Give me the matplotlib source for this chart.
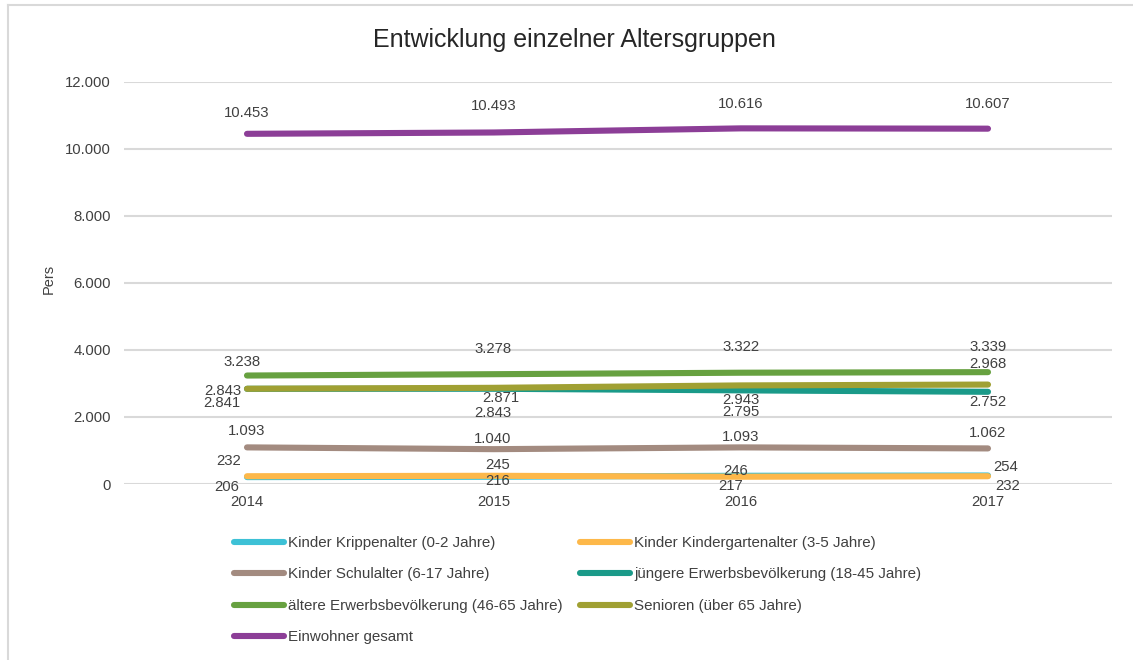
import matplotlib
matplotlib.use("Agg")
import matplotlib.pyplot as plt
from matplotlib.lines import Line2D

plt.rcParams['font.family'] = ['Liberation Sans', 'DejaVu Sans']

years = ["2014", "2015", "2016", "2017"]
krippe = [206, 216, 246, 254]
kindergarten = [232, 245, 217, 232]
schule = [1093, 1040, 1093, 1062]
juengere = [2841, 2843, 2795, 2752]
aeltere = [3238, 3278, 3322, 3339]
senioren = [2843, 2871, 2943, 2968]
gesamt = [10453, 10493, 10616, 10607]

names = ["Kinder Krippenalter (0-2 Jahre)", "Kinder Kindergartenalter (3-5 Jahre)",
         "Kinder Schulalter (6-17 Jahre)", "jüngere Erwerbsbevölkerung (18-45 Jahre)",
         "ältere Erwerbsbevölkerung (46-65 Jahre)", "Senioren (über 65 Jahre)",
         "Einwohner gesamt"]
series = [krippe, kindergarten, schule, juengere, aeltere, senioren, gesamt]
colors = ["#3DC1D6", "#FDB84A", "#A38B80", "#1A9A89", "#67A140", "#A0A033", "#8C3E97"]

# label offsets in pixels (dx, dy upward positive)
offsets = [
    [(-20, -10), (4, -4), (-5, 5), (18, 8)],
    [(-18, 15), (4, 11), (-10, -9), (20, -10)],
    [(0, 16), (-1, 10), (0, 10), (0, 15)],
    [(-25, -14), (-1, -24), (0, -22), (0, -10)],
    [(-5, 14), (-1, 25), (0, 26), (0, 25)],
    [(-24, -2), (7, -10), (0, -15), (0, 21)],
    [(0, 21), (0, 26), (0, 24), (0, 25)],
]

W, H = 1133, 660
fig = plt.figure(figsize=(W / 100, H / 100), dpi=100)
ax = fig.add_axes([123.5 / W, 1 - 484 / H, (1111.5 - 123.5) / W, (484 - 82) / H])

x = list(range(len(years)))
for vals, name, col in zip(series, names, colors):
    ax.plot(x, vals, color=col, lw=4.4, solid_capstyle='round', label=name, zorder=3)

def fmt(v):
    return f"{v:,}".replace(",", ".")

for vals, offs in zip(series, offsets):
    for xi, v, (dx, dy) in zip(x, vals, offs):
        ax.annotate(fmt(v), (xi, v), xytext=(dx, dy), textcoords='offset pixels',
                    ha='center', va='center', fontsize=10.7, color='#404040', zorder=5)

ax.set_xlim(-0.5, len(years) - 0.5)
ax.set_ylim(0, 12000)
ax.set_yticks(range(0, 12001, 2000))
ax.set_yticklabels([fmt(v) for v in range(0, 12001, 2000)])
ax.set_xticks(x)
ax.set_xticklabels(years)
ax.tick_params(axis='both', length=0, labelsize=10.7, labelcolor='#404040')
ax.tick_params(axis='y', pad=9)
ax.tick_params(axis='x', pad=8)
ax.grid(axis='y', color='#D9D9D9', lw=1.5, zorder=0)
ax.set_axisbelow(True)
for s in ax.spines.values():
    s.set_visible(False)

ax.set_ylabel("Pers", fontsize=10.5, color='#404040', labelpad=0)
ax.yaxis.set_label_coords((56 - 123.5) / (1111.5 - 123.5), (484 - 279) / (484 - 82))

fig.text(574 / W, 1 - 40 / H, "Entwicklung einzelner Altersgruppen", ha='center', va='center',
         fontsize=18, color='#262626')

order = [0, 2, 4, 6, 1, 3, 5]
leg_handles = [Line2D([0], [0], color=colors[i], lw=4.4, solid_capstyle='round') for i in order]
fig.legend(leg_handles, [names[i] for i in order], ncol=2, loc='upper left',
           bbox_to_anchor=(234 / W, 1 - 536 / H), frameon=False, fontsize=10.9,
           handlelength=3.3, handletextpad=0.3, columnspacing=1.1, labelspacing=1.15,
           borderpad=0, borderaxespad=0, labelcolor='#404040')

# chart border
fig.add_artist(Line2D([8 / W, 8 / W], [0, 1 - 5 / H], color='#D9D9D9', lw=1.5))
fig.add_artist(Line2D([8 / W, 1], [1 - 5 / H, 1 - 5 / H], color='#D9D9D9', lw=1.5))

fig.savefig("out.png", dpi=100, facecolor='white')
